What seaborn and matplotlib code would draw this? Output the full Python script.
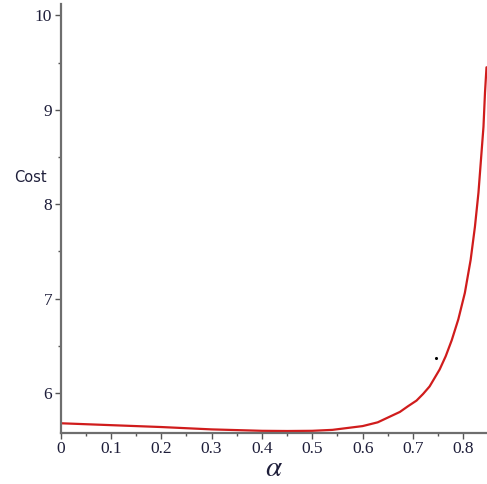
import numpy as np
import pandas as pd
import matplotlib
matplotlib.use("Agg")
import matplotlib.pyplot as plt
from matplotlib.ticker import MultipleLocator
import seaborn as sns

# valori (alpha -> cost)
alpha = [0.0, 0.1, 0.2, 0.3, 0.4, 0.45, 0.5, 0.54, 0.6, 0.63, 0.654, 0.674, 0.69,
         0.707, 0.72, 0.733, 0.753, 0.765, 0.777, 0.790, 0.803, 0.8145, 0.823,
         0.830, 0.835, 0.840, 0.843, 0.846]
cost = [5.68, 5.66, 5.64, 5.615, 5.60, 5.598, 5.60, 5.61, 5.65, 5.69, 5.75, 5.80, 5.86,
        5.92, 5.99, 6.07, 6.25, 6.39, 6.56, 6.78, 7.06, 7.41, 7.76,
        8.12, 8.47, 8.82, 9.18, 9.45]
# puntino isolato nel grafico originale
dot_alpha = [0.745]
dot_cost = [6.37]

df = pd.DataFrame({"alpha": alpha, "cost": cost})

sns.set_style("white")
plt.rcParams["mathtext.fontset"] = "stix"
fig = plt.figure(figsize=(4.87, 4.84), dpi=100)
ax = fig.add_axes([60.5 / 487, (484 - 432.7) / 484, (486.5 - 60.5) / 487, (432.7 - 4) / 484])

sns.lineplot(data=df, x="alpha", y="cost", color="#d01c1c", linewidth=1.6, ax=ax)
ax.scatter(dot_alpha, dot_cost, s=1.5, color="black", zorder=5)

ax.set_xlim(0, 0.846)
ax.set_ylim(5.58, 10.12)
ax.xaxis.set_major_locator(MultipleLocator(0.1))
ax.xaxis.set_minor_locator(MultipleLocator(0.05))
ax.yaxis.set_major_locator(MultipleLocator(1))
ax.yaxis.set_minor_locator(MultipleLocator(0.5))

for s in ["top", "right"]:
    ax.spines[s].set_visible(False)
for s in ["left", "bottom"]:
    ax.spines[s].set_color("#6e6e6e")
    ax.spines[s].set_linewidth(1.6)

ax.tick_params(which="major", direction="out", length=4, width=1.0, color="#555555",
               labelsize=12.5, labelcolor="#1e1e3a", pad=2, left=True, bottom=True)
ax.tick_params(which="minor", direction="out", length=2, width=1.0, color="#555555",
               left=True, bottom=True)

xt = [0, 0.1, 0.2, 0.3, 0.4, 0.5, 0.6, 0.7, 0.8]
ax.set_xticks(xt)
ax.set_xticklabels(["0"] + [f"{v:.1f}" for v in xt[1:]], family="Liberation Serif")
ax.set_yticks([6, 7, 8, 9, 10])
ax.set_yticklabels(["6", "7", "8", "9", "10"], family="Liberation Serif")

ax.set_xlabel(r"$\alpha$", fontsize=21, labelpad=-2, color="#1e1e3a")
ax.set_ylabel("")
fig.text(30 / 487, 1 - 178 / 484, "Cost", fontsize=10.5, family="DejaVu Sans",
         color="#1e1e3a", ha="center", va="center")

fig.savefig("out.png", dpi=100)
